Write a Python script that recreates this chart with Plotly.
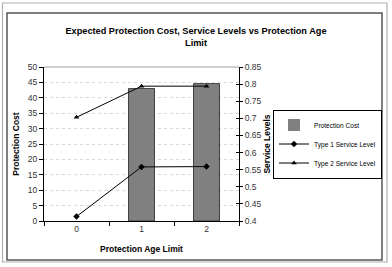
import plotly.graph_objects as go

categories = ["0", "1", "2"]
protection_cost = [0, 43.0, 44.6]
type1_service = [0.413, 0.558, 0.559]
type2_service = [0.703, 0.794, 0.794]

W, H = 392, 267
L, R, T, B = 44, 239, 67, 221
pw, ph = R - L, B - T

def px(x):
    return (x - L) / pw

def py(y):
    return (B - y) / ph

font = "Liberation Sans, Arial, sans-serif"

fig = go.Figure()
fig.add_trace(go.Bar(
    x=categories, y=protection_cost, name="Protection Cost",
    marker=dict(color="#808080",
                line=dict(color="#404040", width=[0 if v == 0 else 1 for v in protection_cost])),
    width=0.4, yaxis="y"))
fig.add_trace(go.Scatter(
    x=categories, y=type1_service, name="Type 1 Service Level",
    mode="lines+markers", line=dict(color="black", width=1),
    marker=dict(symbol="diamond", size=5, color="black"), yaxis="y2"))
fig.add_trace(go.Scatter(
    x=categories, y=type2_service, name="Type 2 Service Level",
    mode="lines+markers", line=dict(color="black", width=1),
    marker=dict(symbol="triangle-up", size=5, color="black"), yaxis="y2"))

shapes = [
    dict(type="rect", xref="paper", yref="paper",
         x0=px(2.5), x1=px(387), y0=py(262), y1=py(3),
         line=dict(color="#b0b0b0", width=1.2)),
    dict(type="rect", xref="paper", yref="paper",
         x0=px(7), x1=px(382), y0=py(260), y1=py(13),
         line=dict(color="#555555", width=1.5)),
    dict(type="line", xref="paper", yref="paper",
         x0=0, x1=1, y0=1, y1=1, line=dict(color="#a0a0a0", width=1)),
]

tickfont = dict(family=font, size=8.5, color="#333333")
titlefont = dict(family=font, size=8.5, color="black")

fig.update_layout(
    width=W, height=H,
    margin=dict(l=L, r=W - R, t=T, b=H - B, autoexpand=False),
    paper_bgcolor="white", plot_bgcolor="white",
    font=dict(family=font, size=8, color="black"),
    title=dict(
        text="<b>Expected Protection Cost, Service Levels vs Protection Age<br>Limit</b>",
        x=px(196), xref="paper", xanchor="center",
        y=(H - 34) / H, yref="container", yanchor="top",
        font=dict(family=font, size=9.2, color="black")),
    xaxis=dict(
        type="category", range=[-0.5, 2.5], automargin=False,
        showline=True, linecolor="black", linewidth=1,
        ticks="outside", ticklen=4, tickcolor="black", tickson="boundaries",
        showgrid=False, tickfont=tickfont,
        title=dict(text="<b>Protection Age Limit</b>", font=titlefont, standoff=12)),
    yaxis=dict(
        range=[0, 50], dtick=5, automargin=False,
        showline=True, linecolor="black", linewidth=1,
        ticks="outside", ticklen=4, tickcolor="black",
        showgrid=True, gridcolor="#d8d8d8", griddash="dot", gridwidth=1,
        zeroline=False, tickfont=tickfont,
        title=dict(text="<b>Protection Cost</b>", font=titlefont, standoff=6)),
    yaxis2=dict(
        range=[0.4, 0.85], dtick=0.05, overlaying="y", side="right", automargin=False,
        showline=True, linecolor="black", linewidth=1,
        ticks="outside", ticklen=3, tickcolor="black",
        showgrid=False, zeroline=False, tickfont=tickfont,
        title=dict(text="<b>Service Levels</b>", font=titlefont, standoff=3)),
    yaxis3=dict(
        range=[0.4, 0.85], dtick=0.05, overlaying="y", side="right", automargin=False,
        showline=False, ticks="inside", ticklen=3, tickcolor="black",
        showticklabels=False, showgrid=False, zeroline=False),
    legend=dict(
        x=px(273), y=py(144), xanchor="left", yanchor="middle",
        bordercolor="black", borderwidth=1, bgcolor="white",
        font=dict(family=font, size=6.6, color="black"),
        tracegroupgap=0, itemwidth=30),
    showlegend=True,
    shapes=shapes,
)

fig.add_trace(go.Scatter(x=categories, y=[None] * len(categories), yaxis="y3",
                         showlegend=False, hoverinfo="skip"))

fig.write_html("out.html")
